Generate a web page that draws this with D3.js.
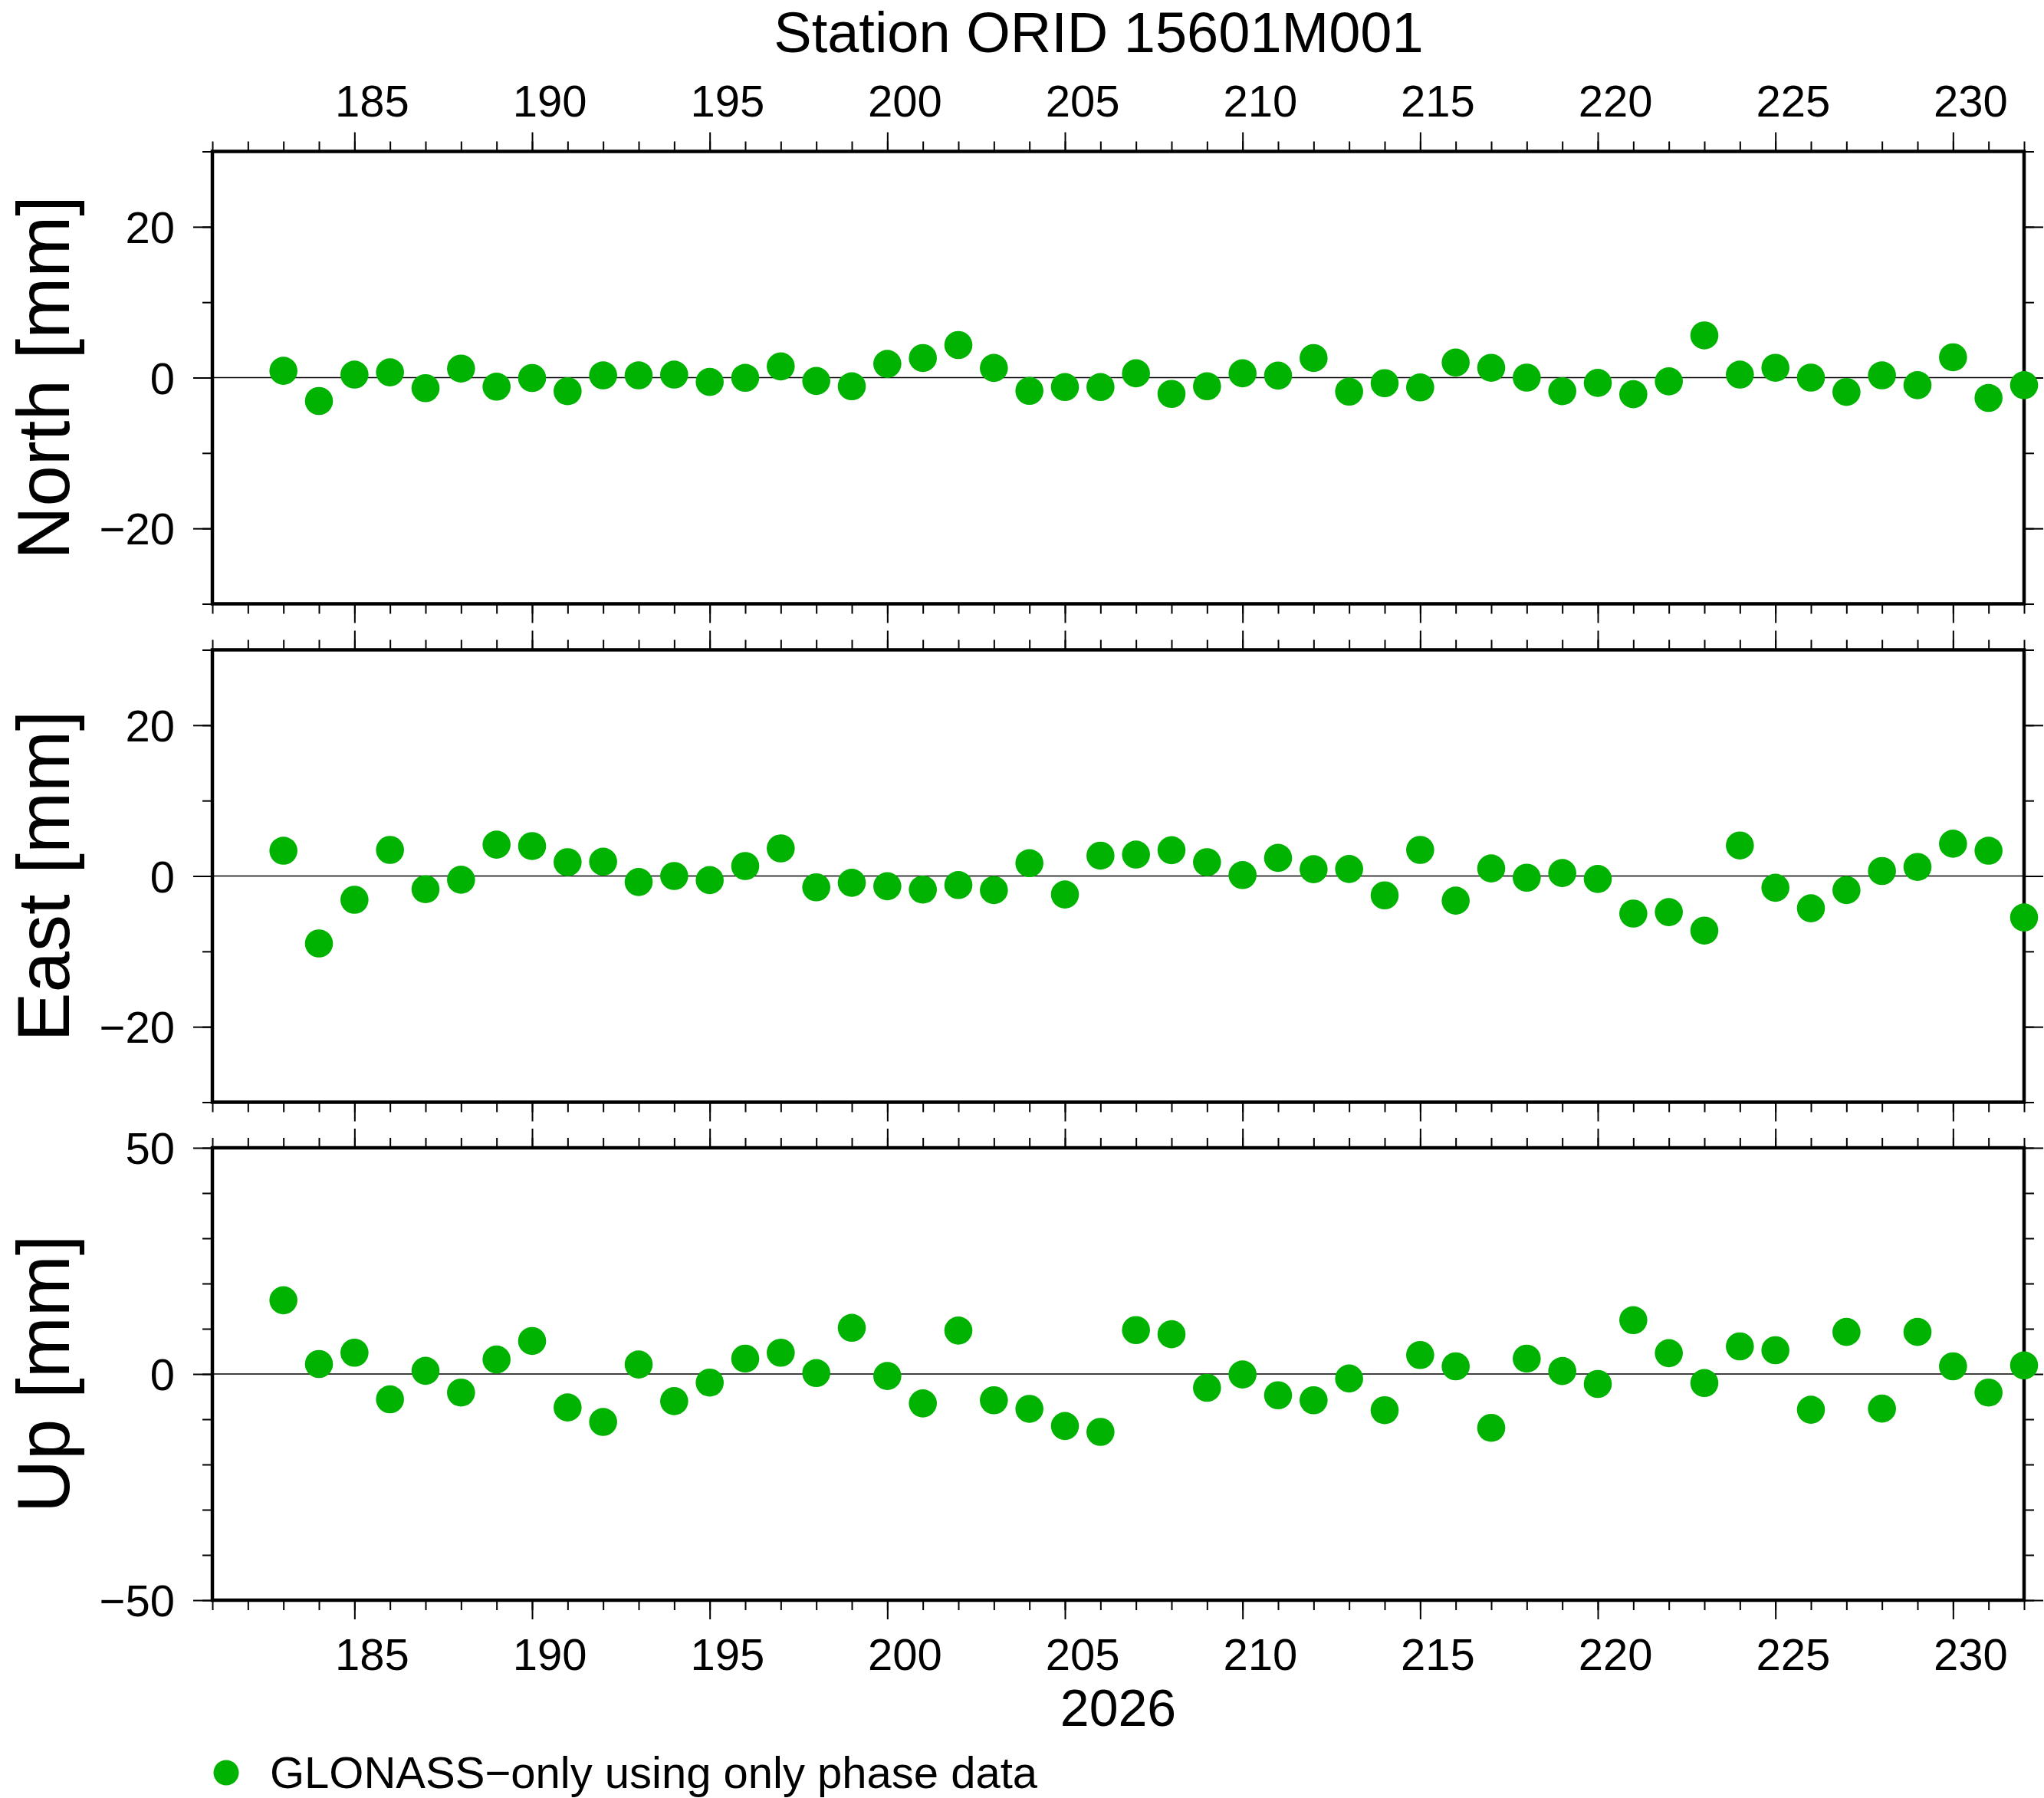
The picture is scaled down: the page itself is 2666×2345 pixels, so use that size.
<!DOCTYPE html>
<html>
<head>
<meta charset="utf-8">
<script src="https://cdn.jsdelivr.net/npm/d3@7"></script>
<style>
  html, body { margin: 0; padding: 0; background: #fff; }
  svg { display: block; }
  text { font-family: "Liberation Sans", Arial, Helvetica, sans-serif; fill: #000; }
</style>
</head>
<body>
<script>
// ---------------- data ----------------
const title = "Station ORID 15601M001";
const yearLabel = "2026";
const legendLabel = "GLONASS\u2212only using only phase data";

const days = [183,184,185,186,187,188,189,190,191,192,193,194,195,196,197,198,199,200,201,202,
              203,204,205,206,207,208,209,210,211,212,213,214,215,216,217,218,219,220,221,222,
              223,224,225,226,227,228,229,230,231,232];

const north = [0.9,-3.1,0.4,0.7,-1.4,1.2,-1.2,-0.05,-1.8,0.3,0.3,0.4,-0.57,-0.03,1.49,-0.44,-1.15,1.82,2.6,4.32,
               1.28,-1.76,-1.25,-1.25,0.57,-2.16,-1.15,0.57,0.27,2.6,-1.86,-0.74,-1.3,2.0,1.3,0.0,-1.8,-0.7,-2.2,-0.5,
               5.6,0.4,1.3,0.0,-1.9,0.3,-1.0,2.7,-2.7,-1.0];

const east = [3.35,-8.95,-3.15,3.46,-1.75,-0.5,4.16,3.97,1.83,1.9,-0.8,0.0,-0.55,1.32,3.66,-1.5,-0.9,-1.36,-1.8,-1.2,
              -1.87,1.7,-2.45,2.7,2.84,3.42,1.83,0.12,2.4,0.9,0.93,-2.57,3.46,-3.27,1.0,-0.23,0.39,-0.39,-4.98,-4.79,
              -7.24,4.05,-1.56,-4.28,-1.87,0.66,1.2,4.28,3.35,-5.5];

const up = [16.3,2.2,4.7,-5.6,0.7,-4.1,3.2,7.3,-7.4,-10.6,2.1,-6.0,-1.9,3.4,4.7,0.2,10.2,-0.45,-6.5,9.6,
            -5.8,-7.7,-11.5,-12.8,9.7,8.8,-3.05,-0.1,-4.7,-5.8,-1.0,-8.0,4.2,1.7,-11.9,3.4,0.65,-2.2,11.9,4.6,
            -2.0,6.1,5.25,-7.9,9.3,-7.65,9.3,1.7,-4.1,1.9];

const xDomain = [181, 232];
const xMajorTicks = [185,190,195,200,205,210,215,220,225,230];

const panelLabels = ["North [mm]", "East [mm]", "Up [mm]"];
const panelDomains = [[-30,30], [-30,30], [-50,50]];
const panelMajorTicks = [[-20,0,20], [-20,0,20], [-50,0,50]];
const panelMinorStep = [10, 10, 10];
const panelSeries = [north, east, up];

// ---------------- layout ----------------
const W = 2666, H = 2345;
const left = 277, right = 2640;
const panelTops = [197.5, 847.5, 1497];
const panelH = 590;
const color = "#00b300";
const majorLen = 25, minorLen = 13;

const svg = d3.select("body").append("svg").attr("width", W).attr("height", H);
svg.append("rect").attr("width", W).attr("height", H).attr("fill", "#fff");

const x = d3.scaleLinear().domain(xDomain).range([left, right]);
const xMinorTicks = d3.range(xDomain[0], xDomain[1] + 1, 1);

function styleAxis(g) {
  g.select(".domain").remove();
  g.selectAll(".tick line").attr("stroke", "#000").attr("stroke-width", 2);
  g.selectAll(".tick text").remove();
}

panelSeries.forEach((series, i) => {
  const top = panelTops[i], bottom = top + panelH;
  const dom = panelDomains[i];
  const y = d3.scaleLinear().domain(dom).range([bottom, top]);
  const g = svg.append("g");
  const yMinor = d3.range(dom[0], dom[1] + 0.001, panelMinorStep[i]);

  // x ticks top & bottom (minor then major)
  g.append("g").attr("transform", `translate(0,${top})`)
    .call(d3.axisTop(x).tickValues(xMinorTicks).tickSize(minorLen)).call(styleAxis);
  g.append("g").attr("transform", `translate(0,${top})`)
    .call(d3.axisTop(x).tickValues(xMajorTicks).tickSize(majorLen)).call(styleAxis);
  g.append("g").attr("transform", `translate(0,${bottom})`)
    .call(d3.axisBottom(x).tickValues(xMinorTicks).tickSize(minorLen)).call(styleAxis);
  g.append("g").attr("transform", `translate(0,${bottom})`)
    .call(d3.axisBottom(x).tickValues(xMajorTicks).tickSize(majorLen)).call(styleAxis);

  // y ticks left & right
  g.append("g").attr("transform", `translate(${left},0)`)
    .call(d3.axisLeft(y).tickValues(yMinor).tickSize(minorLen)).call(styleAxis);
  g.append("g").attr("transform", `translate(${left},0)`)
    .call(d3.axisLeft(y).tickValues(panelMajorTicks[i]).tickSize(majorLen)).call(styleAxis);
  g.append("g").attr("transform", `translate(${right},0)`)
    .call(d3.axisRight(y).tickValues(yMinor).tickSize(minorLen)).call(styleAxis);
  g.append("g").attr("transform", `translate(${right},0)`)
    .call(d3.axisRight(y).tickValues(panelMajorTicks[i]).tickSize(majorLen)).call(styleAxis);

  // y tick labels
  g.selectAll(".ylab").data(panelMajorTicks[i]).enter().append("text")
    .attr("x", 228).attr("y", d => y(d) + 21)
    .attr("text-anchor", "end").attr("font-size", 58)
    .text(d => d < 0 ? "\u2212" + Math.abs(d) : String(d));

  // x tick labels (interval style, centred half a day right)
  if (i === 0) {
    g.selectAll(".xlabT").data(xMajorTicks).enter().append("text")
      .attr("x", d => x(d + 0.5)).attr("y", 152)
      .attr("text-anchor", "middle").attr("font-size", 58).text(d => d);
  }
  if (i === panelSeries.length - 1) {
    g.selectAll(".xlabB").data(xMajorTicks).enter().append("text")
      .attr("x", d => x(d + 0.5)).attr("y", 2178)
      .attr("text-anchor", "middle").attr("font-size", 58).text(d => d);
  }

  // frame
  g.append("rect").attr("x", left).attr("y", top)
    .attr("width", right - left).attr("height", panelH)
    .attr("fill", "none").attr("stroke", "#000").attr("stroke-width", 4.5);

  // zero line
  g.append("line").attr("x1", left).attr("x2", right)
    .attr("y1", y(0)).attr("y2", y(0))
    .attr("stroke", "#000").attr("stroke-width", 1.3);

  // points
  g.selectAll("circle").data(series).enter().append("circle")
    .attr("cx", (d, k) => x(days[k])).attr("cy", d => y(d))
    .attr("r", 18.3).attr("fill", color);

  // y label
  g.append("text")
    .attr("transform", `translate(90,${(top + bottom) / 2}) rotate(-90)`)
    .attr("text-anchor", "middle").attr("font-size", 96)
    .text(panelLabels[i]);
});

// title
svg.append("text").attr("x", 1433).attr("y", 68)
  .attr("text-anchor", "middle").attr("font-size", 74).text(title);

// year label
svg.append("text").attr("x", (left + right) / 2).attr("y", 2251)
  .attr("text-anchor", "middle").attr("font-size", 68).text(yearLabel);

// legend
svg.append("circle").attr("cx", 295).attr("cy", 2312).attr("r", 16.5).attr("fill", color);
svg.append("text").attr("x", 352).attr("y", 2332).attr("font-size", 58).text(legendLabel);
</script>
</body>
</html>
